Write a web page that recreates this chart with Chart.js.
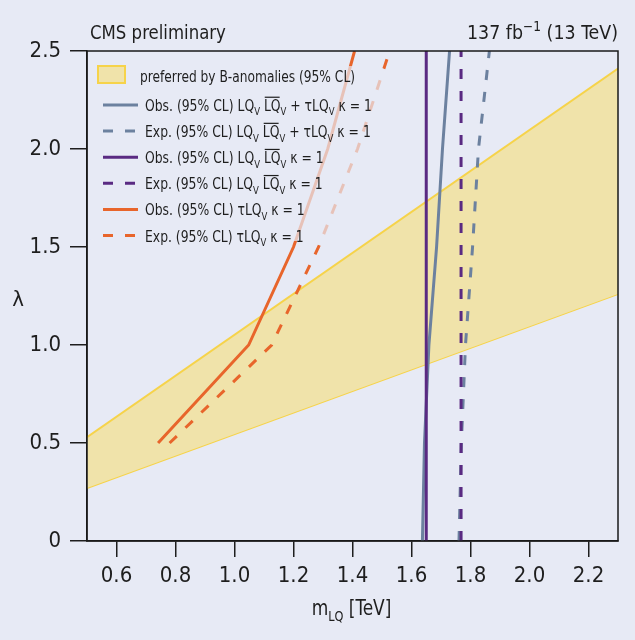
<!DOCTYPE html>
<html><head><meta charset="utf-8">
<script src="https://cdn.jsdelivr.net/npm/chart.js@4"></script>
<style>html,body{margin:0;padding:0;background:#E7EAF5;}#wrap{width:635px;height:640px;}</style>
</head><body><div id="wrap"><canvas id="c" width="635" height="640"></canvas></div>
<script>
// ---- data ----
const xTicks = [0.6, 0.8, 1.0, 1.2, 1.4, 1.6, 1.8, 2.0, 2.2];
const yTicks = [0, 0.5, 1.0, 1.5, 2.0, 2.5];
const bandX = [0.5, 2.3];
const bandLow = [0.27, 1.26];
const bandHigh = [0.53, 2.41];
const lambdaGrid = [0, 0.5, 1.0, 1.5, 2.0, 2.5];
const combObsX = [1.637, 1.644, 1.659, 1.685, 1.705, 1.729];
const combExpX = [1.761, 1.769, 1.783, 1.807, 1.827, 1.864];
const pairLambda = [0, 2.5];
const pairObsX = [1.65, 1.65];
const pairExpX = [1.768, 1.768];
const singleLambda = [0.5, 1.0, 1.5, 2.0, 2.5];
const singleObsX = [0.741, 1.048, 1.20, 1.316, 1.407];
const singleExpX = [0.78, 1.126, 1.285, 1.417, 1.526];

const bandLabel = [['preferred by B-anomalies (95% CL)']];
const legendLabels = [
  [['Obs. (95% CL) LQ'],['V','sub'],[' '],['LQ','over'],['V','sub'],[' + τLQ'],['V','sub'],[' κ = 1']],
  [['Exp. (95% CL) LQ'],['V','sub'],[' '],['LQ','over'],['V','sub'],[' + τLQ'],['V','sub'],[' κ = 1']],
  [['Obs. (95% CL) LQ'],['V','sub'],[' '],['LQ','over'],['V','sub'],[' κ = 1']],
  [['Exp. (95% CL) LQ'],['V','sub'],[' '],['LQ','over'],['V','sub'],[' κ = 1']],
  [['Obs. (95% CL) τLQ'],['V','sub'],[' κ = 1']],
  [['Exp. (95% CL) τLQ'],['V','sub'],[' κ = 1']]
];
const titleLeft = [['CMS preliminary']];
const titleRight = [['137 fb'],['−1','sup'],[' (13 TeV)']];
const xTitle = [['m'],['LQ','sub'],[' [TeV]']];
const yTitle = [['λ']];

// ---- styling ----
const FONT = '"Liberation Sans Narrow", "DejaVu Sans Condensed", "Arial Narrow", sans-serif';
const BG = '#E7EAF5';
const GRAY = '#6C819F', PURPLE = '#5A2A82', ORANGE = '#E8652B';
const YEL = '#F6D34A', YELFILL = '#F0E3AA';
const DASH = [10, 12];

const zip = (xs, ys) => xs.map((x, i) => ({x: x, y: ys[i]}));

function fontFor(p, size) {
  const s = (p[1] === 'sub' || p[1] === 'sup') ? Math.round(size * 0.68) : size;
  return s + 'px ' + FONT;
}
function drawRich(ctx, parts, x, y, size, align, sx) {
  sx = sx || 1;
  let w = 0;
  const ws = parts.map(p => { ctx.font = fontFor(p, size); const m = ctx.measureText(p[0]).width; w += m; return m; });
  const W = w * sx;
  const x0 = align === 'right' ? x - W : (align === 'center' ? x - W / 2 : x);
  ctx.save();
  ctx.translate(x0, y);
  ctx.scale(sx, 1);
  ctx.textBaseline = 'alphabetic';
  ctx.textAlign = 'left';
  let cx = 0;
  parts.forEach((p, i) => {
    ctx.font = fontFor(p, size);
    let dy = 0;
    if (p[1] === 'sub') dy = size * 0.28;
    if (p[1] === 'sup') dy = -size * 0.42;
    ctx.fillText(p[0], cx, dy);
    if (p[1] === 'over') {
      ctx.save();
      ctx.strokeStyle = ctx.fillStyle; ctx.lineWidth = 1.2;
      ctx.beginPath(); ctx.moveTo(cx + 1, -size * 0.86); ctx.lineTo(cx + ws[i] - 1, -size * 0.86); ctx.stroke();
      ctx.restore();
    }
    cx += ws[i];
  });
  ctx.restore();
}

const deco = {
  id: 'deco',
  beforeDraw(chart) {
    const ctx = chart.ctx;
    ctx.save(); ctx.fillStyle = BG; ctx.fillRect(0, 0, chart.width, chart.height); ctx.restore();
  },
  afterDatasetsDraw(chart) {
    const ctx = chart.ctx, a = chart.chartArea;
    const xs = chart.scales.x, ys = chart.scales.y;
    ctx.save();
    // keep the legend frame above the band's upper edge
    ctx.beginPath();
    ctx.moveTo(a.left, a.top);
    ctx.lineTo(a.right, a.top);
    ctx.lineTo(xs.getPixelForValue(bandX[1]), ys.getPixelForValue(bandHigh[1]) - 2);
    ctx.lineTo(xs.getPixelForValue(bandX[0]), ys.getPixelForValue(bandHigh[0]) - 2);
    ctx.closePath();
    ctx.clip();
    ctx.fillStyle = 'rgba(231,234,245,0.7)';
    ctx.beginPath();
    ctx.roundRect(a.left + 1, 66, 297, 175, 8);
    ctx.fill();
    ctx.restore();
    ctx.save();
    // patch
    ctx.fillStyle = YELFILL; ctx.strokeStyle = YEL; ctx.lineWidth = 2;
    ctx.fillRect(98, 66, 27, 17); ctx.strokeRect(98, 66, 27, 17);
    ctx.fillStyle = '#1e1e1e';
    drawRich(ctx, bandLabel, 140, 82, 16, 'left', 0.85);
    const ds = chart.data.datasets.slice(2);
    legendLabels.forEach((lab, i) => {
      const yc = 105 + i * 26.1;
      const d = ds[i];
      ctx.save();
      ctx.strokeStyle = d.borderColor; ctx.lineWidth = 3;
      ctx.setLineDash(d.borderDash || []);
      ctx.beginPath(); ctx.moveTo(103, yc); ctx.lineTo(138, yc); ctx.stroke();
      ctx.restore();
      ctx.fillStyle = '#1e1e1e';
      drawRich(ctx, lab, 145, yc + 6, 16, 'left', 0.86);
    });
    // frame
    ctx.strokeStyle = '#1a1a1a'; ctx.lineWidth = 1.5;
    ctx.strokeRect(a.left, a.top, a.right - a.left, a.bottom - a.top);
    ctx.restore();
  },
  afterDraw(chart) {
    const ctx = chart.ctx, a = chart.chartArea;
    ctx.save();
    ctx.fillStyle = '#1e1e1e';
    drawRich(ctx, titleLeft, 90, 39, 20, 'left', 0.92);
    drawRich(ctx, titleRight, a.right, 39, 20, 'right', 0.97);
    drawRich(ctx, xTitle, (a.left + a.right) / 2 - 1, 615, 21, 'center', 0.9);
    drawRich(ctx, yTitle, 18, 306, 22, 'center');
    ctx.restore();
  }
};

const tickFont = {family: FONT, size: 22};
new Chart(document.getElementById('c'), {
  type: 'scatter',
  data: {
    datasets: [
      {data: zip(bandX, bandLow), showLine: true, borderColor: YEL, borderWidth: 2, pointRadius: 0, fill: false, order: 10},
      {data: zip(bandX, bandHigh), showLine: true, borderColor: YEL, borderWidth: 2, pointRadius: 0, fill: '-1', backgroundColor: YELFILL, order: 9},
      {data: zip(combObsX, lambdaGrid), showLine: true, borderColor: GRAY, borderWidth: 3, pointRadius: 0, order: 3},
      {data: zip(combExpX, lambdaGrid), showLine: true, borderColor: GRAY, borderWidth: 3, borderDash: DASH, pointRadius: 0, order: 3},
      {data: zip(pairObsX, pairLambda), showLine: true, borderColor: PURPLE, borderWidth: 3, pointRadius: 0, order: 1},
      {data: zip(pairExpX, pairLambda), showLine: true, borderColor: PURPLE, borderWidth: 3, borderDash: DASH, pointRadius: 0, order: 1},
      {data: zip(singleObsX, singleLambda), showLine: true, borderColor: ORANGE, borderWidth: 3, pointRadius: 0, order: 2},
      {data: zip(singleExpX, singleLambda), showLine: true, borderColor: ORANGE, borderWidth: 3, borderDash: DASH, pointRadius: 0, order: 2}
    ]
  },
  options: {
    responsive: false, animation: false, devicePixelRatio: 1,
    layout: {padding: {top: 51, right: 17, left: 0, bottom: 0}},
    plugins: {legend: {display: false}, tooltip: {enabled: false}},
    scales: {
      x: {
        type: 'linear', min: 0.5, max: 2.3,
        afterBuildTicks: s => { s.ticks = xTicks.map(v => ({value: v})); },
        afterFit: s => { s.height = 99; },
        ticks: {font: tickFont, color: '#1e1e1e', padding: 6, maxRotation: 0, autoSkip: false, callback: v => Number(v).toFixed(1)},
        grid: {drawOnChartArea: false, drawTicks: true, tickLength: 16, color: '#1e1e1e', lineWidth: 1.5},
        border: {display: true, color: '#1a1a1a', width: 1.5}
      },
      y: {
        type: 'linear', min: 0, max: 2.5,
        afterBuildTicks: s => { s.ticks = yTicks.map(v => ({value: v})); },
        afterFit: s => { s.width = 87; },
        ticks: {font: tickFont, color: '#1e1e1e', padding: 9, autoSkip: false, callback: v => v === 0 ? '0' : Number(v).toFixed(1)},
        grid: {drawOnChartArea: false, drawTicks: true, tickLength: 17, color: '#1e1e1e', lineWidth: 1.5},
        border: {display: true, color: '#1a1a1a', width: 1.5}
      }
    }
  },
  plugins: [deco]
});
</script>
</body></html>
